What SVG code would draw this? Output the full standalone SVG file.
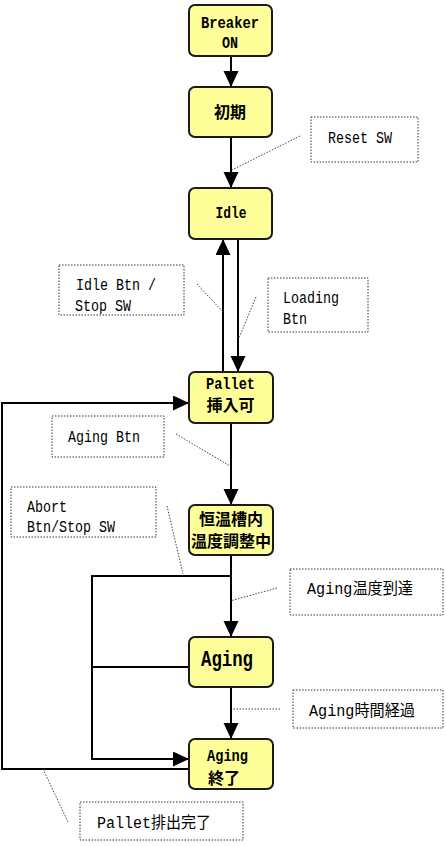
<svg xmlns="http://www.w3.org/2000/svg" width="446" height="846" viewBox="0 0 446 846">
<style>
.node rect{fill:#FFFF99;stroke:#1a1a1a;stroke-width:2}
.nt{font-family:"Liberation Mono","Noto Sans CJK JP",monospace;font-size:17px;font-weight:bold;fill:#000;text-anchor:middle}
.nj{font-family:"Noto Sans CJK JP","Liberation Mono",sans-serif;font-size:16px;font-weight:bold;fill:#000;text-anchor:middle}
.lb rect{fill:#fff;stroke:#333;stroke-width:1;stroke-dasharray:1.5 1.5}
.lt{font-family:"Liberation Mono","Noto Sans CJK JP",monospace;font-size:16px;fill:#000}
.edge{fill:none;stroke:#000;stroke-width:2}
.lead{fill:none;stroke:#444;stroke-width:1;stroke-dasharray:1.5 1.5}
</style>
<defs>
<marker id="ah" markerUnits="userSpaceOnUse" markerWidth="17" markerHeight="16" refX="16" refY="7.5" orient="auto" viewBox="0 0 17 16">
<path d="M0,0 L16,7.5 L0,15 z" fill="#000"/>
</marker>
</defs>
<rect width="446" height="846" fill="#fff"/>
<g id="connectors">
<line class="edge" x1="231" y1="56" x2="231" y2="87" marker-end="url(#ah)"/>
<line class="edge" x1="231" y1="137" x2="231" y2="188" marker-end="url(#ah)"/>
<line class="edge" x1="223" y1="372" x2="223" y2="239" marker-end="url(#ah)"/>
<line class="edge" x1="238" y1="239" x2="238" y2="372" marker-end="url(#ah)"/>
<line class="edge" x1="231" y1="423" x2="231" y2="505" marker-end="url(#ah)"/>
<line class="edge" x1="231" y1="555" x2="231" y2="637" marker-end="url(#ah)"/>
<line class="edge" x1="231" y1="687" x2="231" y2="739" marker-end="url(#ah)"/>
<path class="edge" d="M231,576 H92 V759 H189" marker-end="url(#ah)"/>
<path class="edge" d="M189,667 H92"/>
<path class="edge" d="M189,769 H2 V403 H189" marker-end="url(#ah)"/>
<line class="lead" x1="300" y1="136" x2="232" y2="170"/>
<line class="lead" x1="197" y1="284" x2="223" y2="312"/>
<line class="lead" x1="256" y1="297" x2="239" y2="338"/>
<line class="lead" x1="176" y1="434" x2="230" y2="466"/>
<line class="lead" x1="167" y1="506" x2="183" y2="574"/>
<line class="lead" x1="277" y1="588" x2="230" y2="601"/>
<line class="lead" x1="280" y1="709" x2="232" y2="709"/>
<line class="lead" x1="43" y1="769" x2="68" y2="822"/>
</g>
<g id="labels">
<g class="lb" id="lbl-reset"><rect x="311" y="117" width="107" height="45"/><text class="lt" x="328" y="143" textLength="64" lengthAdjust="spacingAndGlyphs">Reset SW</text></g>
<g class="lb" id="lbl-idlebtn"><rect x="59" y="265" width="125" height="50"/><text class="lt" x="76" y="290" textLength="80" lengthAdjust="spacingAndGlyphs">Idle Btn /</text><text class="lt" x="75" y="311" textLength="56" lengthAdjust="spacingAndGlyphs">Stop SW</text></g>
<g class="lb" id="lbl-loading"><rect x="268" y="278" width="100" height="54"/><text class="lt" x="283" y="303" textLength="56" lengthAdjust="spacingAndGlyphs">Loading</text><text class="lt" x="283" y="324" textLength="24" lengthAdjust="spacingAndGlyphs">Btn</text></g>
<g class="lb" id="lbl-agingbtn"><rect x="52" y="416" width="112" height="41"/><text class="lt" x="68" y="442" textLength="72" lengthAdjust="spacingAndGlyphs">Aging Btn</text></g>
<g class="lb" id="lbl-abort"><rect x="11" y="487" width="145" height="50"/><text class="lt" x="27" y="512" textLength="40" lengthAdjust="spacingAndGlyphs">Abort</text><text class="lt" x="27" y="532" textLength="88" lengthAdjust="spacingAndGlyphs">Btn/Stop SW</text></g>
<g class="lb" id="lbl-temp"><rect x="290" y="569" width="153" height="46"/><text class="lt" x="307" y="594" textLength="106" lengthAdjust="spacingAndGlyphs">Aging温度到達</text></g>
<g class="lb" id="lbl-time"><rect x="293" y="690" width="150" height="38"/><text class="lt" x="309" y="716" textLength="106" lengthAdjust="spacingAndGlyphs">Aging時間経過</text></g>
<g class="lb" id="lbl-eject"><rect x="80" y="802" width="163" height="38"/><text class="lt" x="97" y="828" textLength="114" lengthAdjust="spacingAndGlyphs">Pallet排出完了</text></g>
</g>
<g id="node-breaker" class="node"><rect x="189" y="5" width="83" height="51" rx="6"/><text class="nt" x="230" y="28" textLength="58" lengthAdjust="spacingAndGlyphs">Breaker</text><text class="nt" x="230" y="48" textLength="16" lengthAdjust="spacingAndGlyphs">ON</text></g>
<g id="node-init" class="node"><rect x="189" y="87" width="83" height="50" rx="6"/><text class="nj" x="230" y="118">初期</text></g>
<g id="node-idle" class="node"><rect x="189" y="188" width="83" height="51" rx="6"/><text class="nt" x="231" y="218" textLength="31" lengthAdjust="spacingAndGlyphs">Idle</text></g>
<g id="node-pallet" class="node"><rect x="189" y="372" width="84" height="51" rx="6"/><text class="nt" x="230.5" y="389" textLength="49" lengthAdjust="spacingAndGlyphs">Pallet</text><text class="nj" x="230.5" y="411">挿入可</text></g>
<g id="node-adjust" class="node"><rect x="189" y="505" width="84" height="50" rx="6"/><text class="nj" x="231" y="525">恒温槽内</text><text class="nj" x="231" y="547">温度調整中</text></g>
<g id="node-aging" class="node"><rect x="189" y="637" width="84" height="50" rx="6"/><text class="nt" x="227" y="666" style="font-size:22px" textLength="52" lengthAdjust="spacingAndGlyphs">Aging</text></g>
<g id="node-done" class="node"><rect x="189" y="739" width="84" height="50" rx="6"/><text class="nt" x="227.5" y="761" textLength="41" lengthAdjust="spacingAndGlyphs">Aging</text><text class="nj" x="224" y="784">終了</text></g>
</svg>
